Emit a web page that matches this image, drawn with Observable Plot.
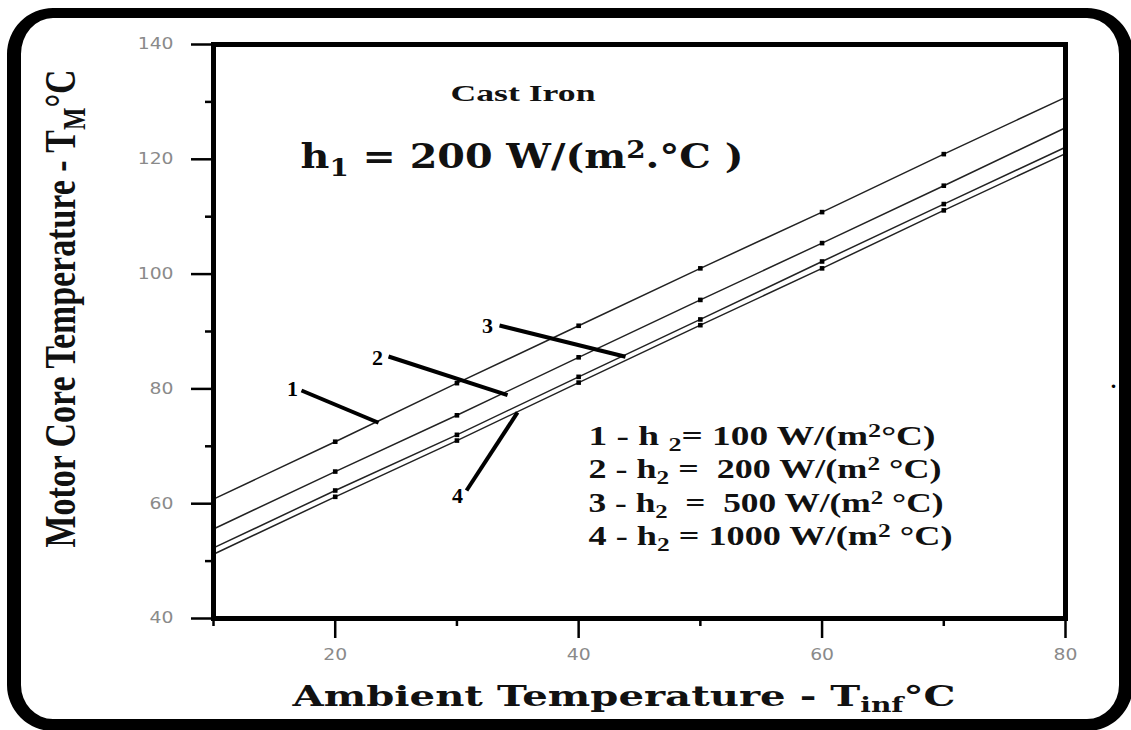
<!DOCTYPE html>
<html><head><meta charset="utf-8">
<script src="https://cdn.jsdelivr.net/npm/d3@7"></script>
<script src="https://cdn.jsdelivr.net/npm/@observablehq/plot@0.6"></script>
<style>
html,body{margin:0;padding:0;background:#fff;overflow:hidden;}
#wrap{position:relative;width:1131px;height:730px;overflow:hidden;}
#chart{position:absolute;left:0;top:0;}
#border{position:absolute;left:7px;top:8px;width:1126px;height:723px;box-sizing:border-box;border:solid #000;border-width:10px 14px 12px 14px;border-radius:46px;pointer-events:none;}
</style></head><body>
<div id="wrap"><div id="chart"></div><div id="border"></div></div>
<script>
// ---- data ----
const ambientT = [10, 20, 30, 40, 50, 60, 70, 80];
const curveIds = ["1", "2", "3", "4"];
const h2Values = [100, 200, 500, 1000];
const coreT_h100  = [60.8, 70.8, 81.0, 91.0, 101.0, 110.8, 120.9, 130.8];
const coreT_h200  = [55.6, 65.6, 75.4, 85.5, 95.5, 105.4, 115.4, 125.5];
const coreT_h500  = [52.3, 62.3, 72.0, 82.1, 92.1, 102.2, 112.2, 122.1];
const coreT_h1000 = [51.2, 61.2, 71.0, 81.1, 91.1, 101.0, 111.1, 121.0];
const xTicksMajor = [20, 40, 60, 80];
const xTicksMinor = [10, 30, 50, 70];
const yTicksMajor = [40, 60, 80, 100, 120, 140];
const yTicksMinor = [50, 70, 90, 110, 130];
const legendTexts = [
  "1 - h _{2}= 100 W/(m^{2}°C)",
  "2 - h_{2} =  200 W/(m^{2} °C)",
  "3 - h_{2}  =  500 W/(m^{2} °C)",
  "4 - h_{2} = 1000 W/(m^{2} °C)"
];
const titleMaterial = "Cast Iron";
const titleH1 = "h_{1} = 200 W/(m^{2}.°C )";
const xLabel = "Ambient Temperature - T_{inf}°C";
const yLabel = "Motor Core Temperature - T_{M}°C";

// ---- tables built from the arrays ----
const seriesValues = [coreT_h100, coreT_h200, coreT_h500, coreT_h1000];
const rows = [];
seriesValues.forEach((vals, s) => vals.forEach((v, i) => rows.push({series: curveIds[s], h2: h2Values[s], t: ambientT[i], T: v})));

// annotation anchors (data units)
const curveLabels = [
  {name: "1", x: 16.49, y: 80.07, x1: 17.23, y1: 79.72, x2: 23.56, y2: 74.1},
  {name: "2", x: 23.47, y: 85.47, x1: 24.38, y1: 85.64, x2: 34.16, y2: 78.9},
  {name: "3", x: 32.51, y: 91.05, x1: 33.50, y1: 91.05, x2: 43.85, y2: 85.6},
  {name: "4", x: 30.05, y: 61.43, x1: 30.79, y1: 62.30, x2: 34.98, y2: 75.9}
];
const legendRows = legendTexts.map((txt, i) => ({txt, x: 40.81, y: [70.31, 64.56, 58.64, 52.89][i]}));

const serif = "Liberation Serif, Times New Roman, serif";
const wideSerif = "DejaVu Serif, serif";

const svg = Plot.plot({
  width: 1131, height: 730,
  marginLeft: 213, marginRight: 66, marginTop: 44, marginBottom: 112,
  x: {domain: [10, 80]},
  y: {domain: [40, 140]},
  style: {background: "transparent", overflow: "visible", fontFamily: "DejaVu Sans"},
  marks: [
    Plot.axisY(yTicksMajor, {tickSize: 22, tickPadding: 18, stroke: "#000", strokeWidth: 2.5, fill: "#8a8a8a", fontSize: 15, label: null}),
    Plot.axisY(yTicksMinor, {tickSize: 8, stroke: "#000", strokeWidth: 2.5, fill: "none", label: null}),
    Plot.axisX(xTicksMajor, {tickSize: 20, tickPadding: 11, stroke: "#000", strokeWidth: 2.5, fill: "#8a8a8a", fontSize: 15, label: null}),
    Plot.axisX(xTicksMinor, {tickSize: 8, stroke: "#000", strokeWidth: 2.5, fill: "none", label: null}),
    Plot.line(rows, {x: "t", y: "T", z: "series", stroke: "#222", strokeWidth: 1.5}),
    Plot.dot(rows, {x: "t", y: "T", symbol: "square", r: 2.6, fill: "#000"}),
    Plot.frame({stroke: "#000", strokeWidth: 5}),
    Plot.link(curveLabels, {x1: "x1", y1: "y1", x2: "x2", y2: "y2", stroke: "#000", strokeWidth: 4}),
    Plot.text(curveLabels, {x: "x", y: "y", text: "name", fontFamily: serif, fontWeight: "bold", fontSize: 22, fill: "#000", ariaLabel: () => "curve-labels"}),
    Plot.text([titleMaterial], {x: () => 29.47, y: () => 130.24, text: d => d, textAnchor: "start", lineAnchor: "bottom", fontFamily: serif, fontWeight: "bold", fontSize: 24, fill: "#111", ariaLabel: () => "title-material"}),
    Plot.text([titleH1], {x: () => 17.15, y: () => 118.57, text: d => d, textAnchor: "start", lineAnchor: "bottom", fontFamily: wideSerif, fontWeight: "bold", fontSize: 34, fill: "#111", ariaLabel: () => "title-h1"}),
    Plot.text(legendRows, {x: "x", y: "y", text: "txt", textAnchor: "start", lineAnchor: "bottom", fontFamily: serif, fontWeight: "bold", fontSize: 27, fill: "#111", ariaLabel: () => "legend"}),
    Plot.text([xLabel], {x: () => 43.73, y: () => 24.84, text: d => d, textAnchor: "middle", lineAnchor: "bottom", fontFamily: wideSerif, fontWeight: "bold", fontSize: 28, fill: "#111", ariaLabel: () => "x-label"}),
    Plot.text([yLabel], {x: () => -1.42, y: () => 94.0, text: d => d, rotate: -90, textAnchor: "middle", lineAnchor: "bottom", fontFamily: serif, fontWeight: "bold", fontSize: 44, fill: "#111", ariaLabel: () => "y-label"}),
    Plot.text(["."], {x: () => 83.95, y: () => 81.46, text: d => d, fontFamily: serif, fontWeight: "bold", fontSize: 22, fill: "#000"})
  ]
});
document.getElementById("chart").appendChild(svg);

// ---- post-processing: sub/superscripts and stretched text ----
const root = d3.select(svg);
const NS = "http://www.w3.org/2000/svg";
root.selectAll("text").each(function() {
  const s = this.textContent;
  if (!/[_^]\{/.test(s)) return;
  const size = parseFloat(getComputedStyle(this).fontSize);
  this.textContent = "";
  for (const p of s.split(/([_^]\{[^}]*\})/).filter(p => p !== "")) {
    const t = document.createElementNS(NS, "tspan");
    if (p.startsWith("_{")) {
      t.textContent = p.slice(2, -1);
      t.setAttribute("font-size", (size * 0.7).toFixed(1));
      t.setAttribute("baseline-shift", (-size * 0.22).toFixed(1));
    } else if (p.startsWith("^{")) {
      t.textContent = p.slice(2, -1);
      t.setAttribute("font-size", (size * 0.7).toFixed(1));
      t.setAttribute("baseline-shift", (size * 0.3).toFixed(1));
    } else t.textContent = p;
    this.appendChild(t);
  }
});
function fit(label, len) {
  root.selectAll(`text[aria-label="${label}"], g[aria-label="${label}"] text`).each(function(_, i) {
    const L = typeof len === "function" ? len(this, i) : Array.isArray(len) ? len[i] : len;
    this.setAttribute("textLength", L.toFixed(1));
    this.setAttribute("lengthAdjust", "spacingAndGlyphs");
  });
}
fit("title-material", 145);
fit("title-h1", 443);
fit("legend", [347, 353, 355, 364]);
fit("x-label", 663);
fit("y-label", 478);
fit("y-axis tick label", el => el.getComputedTextLength() * 1.25);
fit("x-axis tick label", el => el.getComputedTextLength() * 1.25);
</script>
</body></html>
